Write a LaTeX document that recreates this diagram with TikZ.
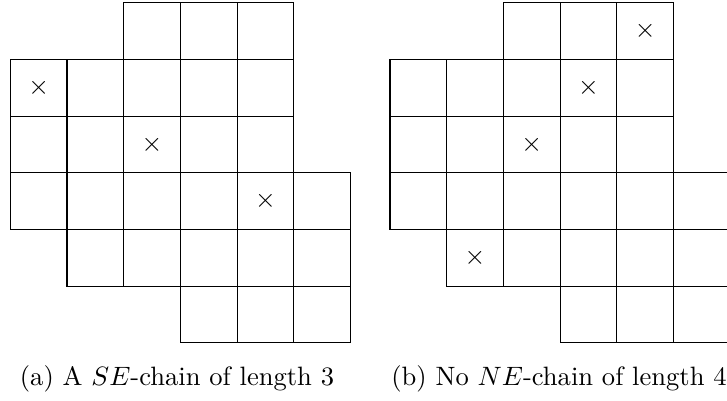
\documentclass[tikz,border=0pt]{standalone}
\newcommand\chainshape[2]{%
  \foreach \r/\a/\b in {0/2/4,1/0/4,2/0/4,3/0/5,4/1/5,5/3/5}{%
    \foreach \c in {\a,...,\b}{%
      \draw[cellline] ({#1+\c*56.7},{#2+\r*56.7}) rectangle ++(56.7,56.7);
    }%
  }%
}
\begin{document}
\begin{tikzpicture}[x=0.013228cm,y=-0.013228cm,
  cellline/.style={line width=0.4pt,black},
  xmark/.style={inner sep=0pt},
  capt/.style={anchor=base,inner sep=0pt}]
\useasboundingbox (0,0) rectangle (727,400);
\chainshape{10.3}{2.7}
\chainshape{390}{2.7}
\node[xmark] (a1) at (38.65,87.75) {$\times$};
\node[xmark] (a2) at (152.05,144.45) {$\times$};
\node[xmark] (a3) at (265.45,201.15) {$\times$};
\node[xmark] (b1) at (645.15,31.05) {$\times$};
\node[xmark] (b2) at (588.45,87.75) {$\times$};
\node[xmark] (b3) at (531.75,144.45) {$\times$};
\node[xmark] (b4) at (475.05,257.85) {$\times$};
\node[capt] (capa) at (177,385) {(a) A $SE$-chain of length 3};
\node[capt] (capb) at (559,385) {(b) No $NE$-chain of length 4};
\end{tikzpicture}
\end{document}
